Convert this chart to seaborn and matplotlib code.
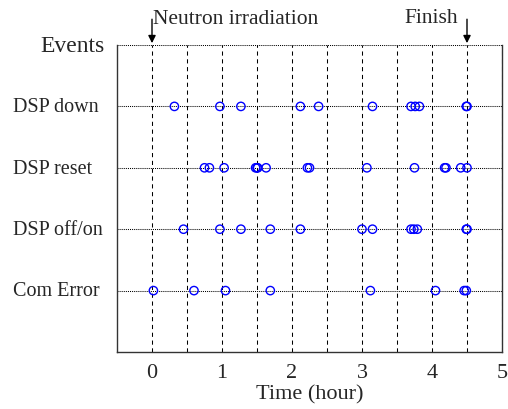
import numpy as np
import pandas as pd
import matplotlib
matplotlib.use("Agg")
import matplotlib.pyplot as plt
import seaborn as sns

# ---- data ----
event_names = ["DSP down", "DSP reset", "DSP off/on", "Com Error"]
header_label = "Events"

dsp_down = [0.32, 0.97, 1.27, 2.12, 2.38, 3.15, 3.70, 3.76, 3.82, 4.49, 4.50]
dsp_reset = [0.75, 0.82, 1.03, 1.48, 1.50, 1.51, 1.63, 2.22, 2.25, 3.07, 3.75,
             4.18, 4.20, 4.41, 4.50]
dsp_offon = [0.45, 0.97, 1.27, 1.69, 2.12, 3.00, 3.15, 3.70, 3.74, 3.79, 4.49, 4.50]
com_error = [0.02, 0.60, 1.05, 1.69, 3.12, 4.05, 4.46, 4.49]

x_ticks = [0, 1, 2, 3, 4, 5]
start_time = 0.0
finish_time = 4.5
start_label = "Neutron irradiation"
finish_label = "Finish"
x_label = "Time (hour)"

# ---- build table ----
series = [dsp_down, dsp_reset, dsp_offon, com_error]
n = len(event_names)
rows = []
for i, (name, times) in enumerate(zip(event_names, series)):
    for t in times:
        rows.append({"time": t, "event": name, "level": n - i})
df = pd.DataFrame(rows)

sns.set_theme(style="white")
plt.rcParams["font.family"] = ["Liberation Serif", "DejaVu Serif"]
plt.rcParams["font.size"] = 13

fig = plt.figure(figsize=(5.08, 4.09), dpi=100)
ax = fig.add_axes([117 / 508, 1 - 352 / 409, 385 / 508, 307 / 409])

ax.set_xlim(-0.5, 5)
ax.set_ylim(0, n + 1)

# grid lines
dash = (0, (4, 3.5))
ax.set_xticks(x_ticks)
ax.set_xticks(np.arange(0.5, 5, 1.0), minor=True)
ax.xaxis.grid(True, which="both", color="black", linestyle=dash, linewidth=0.75)
levels = list(range(1, n + 2))
ax.set_yticks(levels)
ax.yaxis.grid(True, color="black", linestyle=(0, (1, 1)), linewidth=0.75)
ax.set_yticklabels([])
ax.tick_params(axis="both", which="both", length=0)
ax.tick_params(axis="x", labelsize=16, pad=8.5)
ax.set_axisbelow(True)

sns.scatterplot(data=df, x="time", y="level", ax=ax, marker="o",
                facecolor="none", edgecolor="blue", linewidth=1.0, s=36,
                legend=False, zorder=3)

ax.set_xlabel(x_label, fontsize=16, labelpad=2)
ax.set_ylabel("")

for side in ["left", "right", "bottom"]:
    ax.spines[side].set_visible(True)
    ax.spines[side].set_color("#333333")
    ax.spines[side].set_linewidth(1.0)
ax.spines["top"].set_visible(False)

# row labels
trans = matplotlib.transforms.blended_transform_factory(ax.transAxes, ax.transData)
for i, name in enumerate(event_names):
    ax.text((13 - 117) / 385, n - i - 0.02, name, transform=trans, ha="left",
            va="center", fontsize=14.5)
ax.text((105 - 117) / 385, n + 1 - 0.03, header_label, transform=trans, ha="right",
        va="center", fontsize=17)

# annotations
arrow_kw = dict(arrowstyle="-|>", color="black", lw=1.0, mutation_scale=11,
                shrinkA=0, shrinkB=0)
ax.annotate("", xy=(start_time, n + 1.03), xytext=(start_time, n + 1.42),
            arrowprops=arrow_kw, annotation_clip=False)
ax.annotate("", xy=(finish_time, n + 1.03), xytext=(finish_time, n + 1.42),
            arrowprops=arrow_kw, annotation_clip=False)
ax.text(start_time + 0.02, n + 1.42, start_label, ha="left", va="center",
        fontsize=15.5)
ax.text(finish_time - 0.13, n + 1.43, finish_label, ha="right", va="center",
        fontsize=15.5)

fig.savefig("out.png", dpi=100)
